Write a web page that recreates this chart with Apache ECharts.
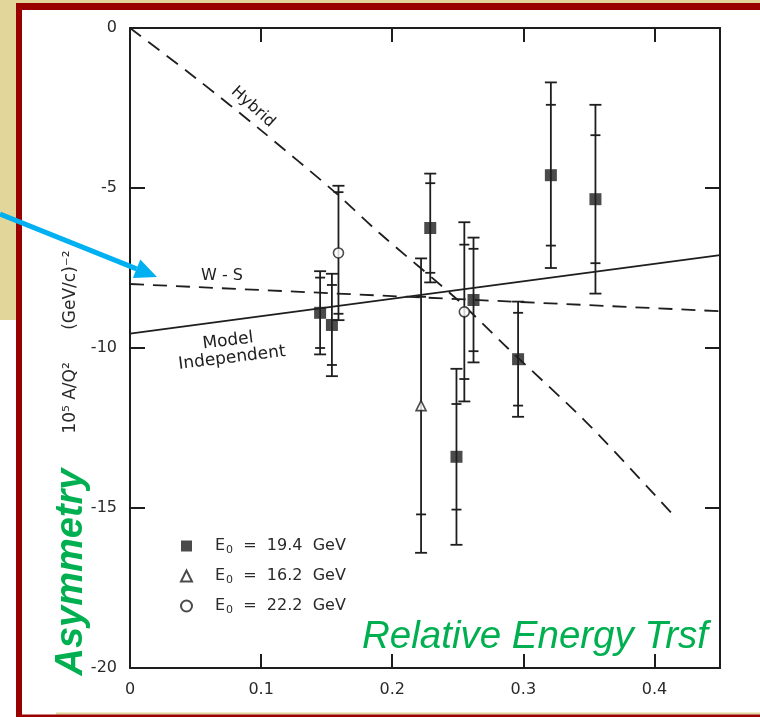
<!DOCTYPE html>
<html>
<head>
<meta charset="utf-8">
<script src="https://cdn.jsdelivr.net/npm/echarts@6/dist/echarts.min.js"></script>
<style>
  html, body { margin: 0; padding: 0; background: #fff; }
  #chart { width: 760px; height: 717px; }
</style>
</head>
<body>
<div id="chart"></div>
<script>
// Asymmetry vs relative energy transfer (y), with model curves.

// Axis ticks
const xTicks = [0, 0.1, 0.2, 0.3, 0.4];
const yTicks = [0, -5, -10, -15, -20];

// E0 = 19.4 GeV (filled squares): y, asymmetry, statistical error, total error
const sqX    = [0.145, 0.154, 0.229, 0.249, 0.262, 0.296, 0.321, 0.355];
const sqA    = [-8.9, -9.28, -6.25, -13.4, -8.5, -10.35, -4.6, -5.35];
const sqStat = [1.1, 1.25, 1.4, 1.65, 1.6, 1.45, 2.2, 2.0];
const sqTot  = [1.3, 1.6, 1.7, 2.75, 1.95, 1.8, 2.9, 2.95];

// E0 = 16.2 GeV (open triangle)
const trX    = [0.222];
const trA    = [-11.8];
const trStat = [3.4];
const trTot  = [4.6];

// E0 = 22.2 GeV (open circles)
const ciX    = [0.159, 0.255];
const ciA    = [-7.03, -8.87];
const ciStat = [1.9, 2.1];
const ciTot  = [2.1, 2.8];

// Model curves
const hybridX = [0, 0.05, 0.1, 0.156, 0.19, 0.25, 0.288, 0.35, 0.415];
const hybridY = [0, -1.56, -3.2, -5.12, -6.4, -8.5, -10.0, -12.4, -15.25];
const wsX = [0, 0.45];
const wsY = [-8.0, -8.85];
const miX = [0, 0.45];
const miY = [-9.55, -7.1];

const zip = (a, b) => a.map((v, i) => [v, b[i]]);
const zipErr = (x, a, s, t) => x.map((v, i) => [v, a[i], s[i], t[i]]);

const INK = '#1e1e1e';
const SCAN_FONT = 'DejaVu Sans';

function errorBars(api) {
  const x = api.value(0), a = api.value(1), s = api.value(2), t = api.value(3);
  const pTop = api.coord([x, a + t]);
  const pBot = api.coord([x, a - t]);
  const sTop = api.coord([x, a + s]);
  const sBot = api.coord([x, a - s]);
  const style = { stroke: INK, lineWidth: 1.8 };
  const seg = (x1, y1, x2, y2) => ({ type: 'line', shape: { x1, y1, x2, y2 }, style });
  const cx = pTop[0];
  return {
    type: 'group',
    children: [
      seg(cx, pTop[1], cx, pBot[1]),
      seg(cx - 6, pTop[1], cx + 6, pTop[1]),
      seg(cx - 6, pBot[1], cx + 6, pBot[1]),
      seg(cx - 5, sTop[1], cx + 5, sTop[1]),
      seg(cx - 5, sBot[1], cx + 5, sBot[1])
    ]
  };
}

const chart = echarts.init(document.getElementById('chart'), null, { renderer: 'canvas' });

const axisLineStyle = { color: INK, width: 2 };
const labelStyle = { color: '#2a2a2a', fontSize: 16, fontFamily: SCAN_FONT };
const fmtTick = list => v => (list.some(t => Math.abs(t - v) < 1e-9) ? String(+v.toFixed(2)) : '');

// Arrow geometry
const arrowFrom = [0, 214], arrowTip = [157, 277];
const adx = arrowTip[0] - arrowFrom[0], ady = arrowTip[1] - arrowFrom[1];
const alen = Math.hypot(adx, ady), ux = adx / alen, uy = ady / alen;
const headL = 22, headW = 10;
const baseC = [arrowTip[0] - headL * ux, arrowTip[1] - headL * uy];

const legendNames = { 'E19': '19.4', 'E16': '16.2', 'E22': '22.2' };

function frameAxis(kind, pos, extra) {
  const isX = kind === 'x';
  return Object.assign({
    type: 'value',
    position: pos,
    min: isX ? 0 : -20,
    max: isX ? 0.45 : 0,
    interval: isX ? 0.1 : 5,
    axisLine: { show: true, onZero: false, lineStyle: axisLineStyle },
    axisTick: { show: true, inside: true, length: isX ? 14 : 15, lineStyle: axisLineStyle },
    axisLabel: { show: false },
    splitLine: { show: false }
  }, extra || {});
}

chart.setOption({
  backgroundColor: '#ffffff',
  animation: false,
  grid: { left: 130, right: 40, top: 28, bottom: 49, show: false },
  xAxis: [
    frameAxis('x', 'bottom', {
      axisLabel: Object.assign({ show: true, margin: 14, formatter: fmtTick(xTicks) }, labelStyle)
    }),
    frameAxis('x', 'top')
  ],
  yAxis: [
    frameAxis('y', 'left', {
      axisLabel: Object.assign({ show: true, margin: 13, formatter: fmtTick(yTicks) }, labelStyle)
    }),
    frameAxis('y', 'right')
  ],
  legend: {
    data: ['E19', 'E16', 'E22'],
    orient: 'vertical',
    left: 175, top: 533,
    itemWidth: 11, itemHeight: 11, itemGap: 12.5,
    formatter: n => '{e|E}{s|0}{t|  =  ' + legendNames[n] + '  GeV}',
    textStyle: {
      color: '#2a2a2a', fontFamily: SCAN_FONT, fontSize: 16,
      rich: {
        e: { fontSize: 16, fontFamily: SCAN_FONT, color: '#2a2a2a', padding: [0, 0, 0, 18] },
        s: { fontSize: 11, fontFamily: SCAN_FONT, color: '#2a2a2a', verticalAlign: 'bottom', padding: [8, 0, 0, 1] },
        t: { fontSize: 16, fontFamily: SCAN_FONT, color: '#2a2a2a' }
      }
    }
  },
  series: [
    {
      name: 'Hybrid', type: 'line', data: zip(hybridX, hybridY), smooth: 0.3,
      showSymbol: false, silent: true, z: 2,
      lineStyle: { color: INK, width: 1.8, type: [14, 9] }
    },
    {
      name: 'W-S', type: 'line', data: zip(wsX, wsY),
      showSymbol: false, silent: true, z: 2,
      lineStyle: { color: INK, width: 1.8, type: [14, 9] }
    },
    {
      name: 'Model Independent', type: 'line', data: zip(miX, miY),
      showSymbol: false, silent: true, z: 2,
      lineStyle: { color: INK, width: 1.8 }
    },
    { type: 'custom', renderItem: (p, api) => errorBars(api), data: zipErr(sqX, sqA, sqStat, sqTot), z: 3, silent: true },
    { type: 'custom', renderItem: (p, api) => errorBars(api), data: zipErr(trX, trA, trStat, trTot), z: 3, silent: true },
    { type: 'custom', renderItem: (p, api) => errorBars(api), data: zipErr(ciX, ciA, ciStat, ciTot), z: 3, silent: true },
    {
      name: 'E19', type: 'scatter', data: zip(sqX, sqA), symbol: 'rect', symbolSize: 12, z: 5,
      itemStyle: { color: INK, borderColor: INK, borderWidth: 0 }
    },
    {
      name: 'E16', type: 'scatter', data: zip(trX, trA), symbol: 'triangle', symbolSize: 10, z: 5,
      itemStyle: { color: '#fff', borderColor: INK, borderWidth: 1.6 }
    },
    {
      name: 'E22', type: 'scatter', data: zip(ciX, ciA), symbol: 'circle', symbolSize: 10, z: 5,
      itemStyle: { color: '#fff', borderColor: INK, borderWidth: 1.6 }
    }
  ],
  graphic: [
    // slide background and frame
    { type: 'rect', shape: { x: 0, y: 0, width: 16, height: 320 }, style: { fill: '#e2d69b' }, z: -10 },
    { type: 'rect', shape: { x: 0, y: 0, width: 760, height: 3 }, style: { fill: '#e2d69b' }, z: -10 },
    { type: 'rect', shape: { x: 16, y: 3, width: 744, height: 7 }, style: { fill: '#990000' }, z: -9 },
    { type: 'rect', shape: { x: 16, y: 3, width: 6, height: 714 }, style: { fill: '#990000' }, z: -9 },
    { type: 'rect', shape: { x: 56, y: 712.5, width: 704, height: 2 }, style: { fill: '#e2d69b' }, z: -9 },
    { type: 'rect', shape: { x: 16, y: 714.5, width: 744, height: 3 }, style: { fill: '#990000' }, z: -9 },

    // y axis quantity
    { type: 'text', x: 71, y: 342, rotation: Math.PI / 2,
      style: { text: '10\u2075 A/Q\u00B2      (GeV/c)\u207B\u00B2', fill: '#2a2a2a',
        font: '17px "DejaVu Sans"', textAlign: 'center', textVerticalAlign: 'middle' }, z: 10 },

    // curve labels
    { type: 'text', x: 253, y: 107, rotation: -42 * Math.PI / 180,
      style: { text: 'Hybrid', fill: INK, font: '16px "DejaVu Sans"', textAlign: 'center', textVerticalAlign: 'middle' }, z: 10 },
    { type: 'text', x: 222, y: 276,
      style: { text: 'W - S', fill: INK, font: '16px "DejaVu Sans"', textAlign: 'center', textVerticalAlign: 'middle' }, z: 10 },
    { type: 'text', x: 228, y: 341, rotation: 7 * Math.PI / 180,
      style: { text: 'Model', fill: INK, font: '17px "DejaVu Sans"', textAlign: 'center', textVerticalAlign: 'middle' }, z: 10 },
    { type: 'text', x: 232, y: 358, rotation: 7 * Math.PI / 180,
      style: { text: 'Independent', fill: INK, font: '17px "DejaVu Sans"', textAlign: 'center', textVerticalAlign: 'middle' }, z: 10 },

    // slide annotations
    { type: 'text', x: 72, y: 572, rotation: Math.PI / 2,
      style: { text: 'Asymmetry', fill: '#00b050', font: 'italic bold 38px "Liberation Sans"',
        textAlign: 'center', textVerticalAlign: 'middle' }, z: 20 },
    { type: 'text', x: 362, y: 637,
      style: { text: 'Relative Energy Trsf', fill: '#00b050', font: 'italic 38.5px "Liberation Sans"',
        textAlign: 'left', textVerticalAlign: 'middle' }, z: 20 },

    // pointer arrow
    { type: 'line', shape: { x1: arrowFrom[0], y1: arrowFrom[1], x2: baseC[0], y2: baseC[1] },
      style: { stroke: '#00b0f0', lineWidth: 5 }, z: 30 },
    { type: 'polygon', shape: { points: [
        arrowTip,
        [baseC[0] - headW * uy, baseC[1] + headW * ux],
        [baseC[0] + headW * uy, baseC[1] - headW * ux]
      ] }, style: { fill: '#00b0f0' }, z: 30 }
  ]
});
</script>
</body>
</html>
